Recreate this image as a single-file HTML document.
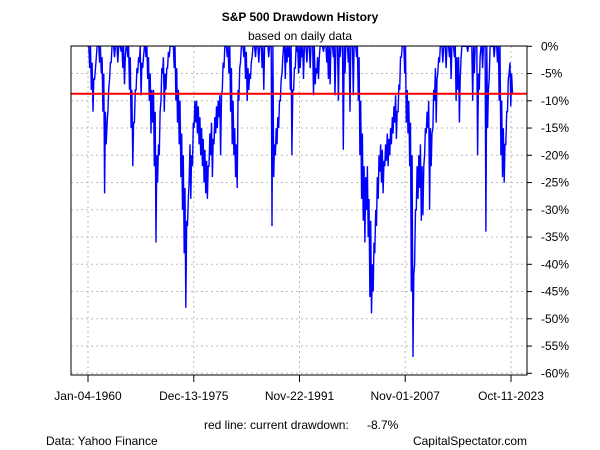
<!DOCTYPE html>
<html><head><meta charset="utf-8"><style>
body{margin:0;background:#fff;}
svg{display:block;font-family:"Liberation Sans",Arial,sans-serif;}
</style></head><body>
<svg id="chart" width="600" height="450" viewBox="0 0 600 450" xmlns="http://www.w3.org/2000/svg">
<rect width="600" height="450" fill="#fff"/>
<text x="300" y="21" text-anchor="middle" font-size="12" font-weight="bold">S&amp;P 500 Drawdown History</text>
<text x="300" y="40" text-anchor="middle" font-size="12">based on daily data</text>
<g id="grid"></g>
<g id="series"></g>
<g id="axes"></g>
<text x="204" y="429" font-size="12">red line: current drawdown:</text>
<text x="367" y="429" font-size="12">-8.7%</text>
<text x="46" y="445" font-size="12">Data: Yahoo Finance</text>
<text x="527" y="445" text-anchor="end" font-size="12">CapitalSpectator.com</text>
</svg>
<script>
const startYear = 1960;
const stepYears = 0.25;
const drawdown = [
0,-4,-8,-12, -6,-2,0,-3, -5,-12,-27,-18, -12,-6,-3,0, -2,0,-3,0, -1,-4,-7,0,
-2,-8,-15,-22, -14,-8,-5,-3, -9,-4,0,-2, -6,-10,-16,-14, -22,-36,-25,-20, -10,-5,-12,-8,
-4,-2,0,0, -4,-10,-14,-18, -24,-30,-38,-48, -33,-25,-28,-22, -15,-14,-16,-18, -20,-22,-25,-27,
-28,-22,-20,-24, -18,-16,-15,-13, -20,-8,-4,0, -2,-5,-12,-18, -20,-24,-26,-10, -3,0,-2,-6,
-10,-8,-6,-2, 0,-2,0,-3, 0,-4,-8,0, 0,-2,0,-33, -24,-20,-18,-15, -10,-5,0,-6,
-3,-2,-8,-20, -8,-4,-1,-5, -4,-2,-6,0, -3,0,-4,0, -9,-7,-5,-6, 0,0,-1,0,
-3,-6,-7,0, -2,-9,0,-10, -2,0,-19,-5, 0,-3,-12,0, -9,0,-2,-10, -20,-28,-32,-36,
-30,-35,-46,-49, -45,-38,-33,-28, -23,-25,-27,-22, -21,-22,-20,-18, -16,-14,-17,-12, -8,-2,0,-5,
-14,-16,-22,-45, -57,-40,-30,-28, -26,-32,-31,-20, -16,-15,-30,-22, -15,-10,-14,-5, -3,0,-3,0,
-4,0,-2,-6, 0,-2,-10,-8, -14,-2,0,0, 0,-1,0,0, -10,-5,0,-20, -8,0,-4,0,
-34,-15,-6,0, 0,-2,0,-3, -10,-20,-24,-25, -18,-12,-5,-11, -8.7
];
const quarterPeak = [
0,0,-3,-6, -4,0,0,0, -2,-5,-12,-14, -8,-3,0,0, 0,0,0,0, 0,0,-2,0,
0,-2,-8,-14, -8,-4,-2,0, -3,-2,0,0, -2,-5,-8,-8, -12,-20,-18,-12, -4,-2,-5,-4,
-1,0,0,0, 0,-4,-8,-10, -16,-20,-26,-32, -28,-18,-20,-14, -10,-10,-11,-13, -15,-17,-19,-21,
-22,-16,-14,-17, -13,-11,-10,-9, -9,-3,0,0, 0,0,-4,-10, -15,-18,-8,-4, 0,0,0,-1,
-4,-5,-3,0, 0,0,0,0, 0,0,0,0, 0,0,0,0, -18,-15,-13,-10, -6,-2,0,0,
0,0,0,-8, -4,0,0,0, 0,0,0,0, 0,0,0,0, 0,-4,-2,-2, 0,0,0,0,
0,0,0,0, 0,0,0,0, 0,0,0,0, 0,0,0,0, 0,0,0,-2, -10,-16,-22,-24,
-22,-28,-32,-40, -36,-30,-24,-20, -18,-19,-21,-18, -16,-17,-15,-13, -11,-9,-12,-7, -2,0,0,0,
-8,-10,-14,-20, -42,-30,-22,-20, -18,-22,-22,-15, -12,-10,-15,-16, -8,-4,-6,-2, 0,0,0,0,
0,0,0,0, 0,0,-2,-2, -6,0,0,0, 0,0,0,0, 0,0,0,-5, -2,0,0,0,
0,-8,0,0, 0,0,0,0, 0,-10,-15,-18, -12,-6,-3,-5, -8.7
];
const currentDrawdown = -8.7;
const yTicks = [0,-5,-10,-15,-20,-25,-30,-35,-40,-45,-50,-55,-60];
const xTickLabels = ["Jan-04-1960","Dec-13-1975","Nov-22-1991","Nov-01-2007","Oct-11-2023"];
const xTickYears = [1960.0,1975.95,1991.89,2007.83,2023.78];

const NS="http://www.w3.org/2000/svg";
const L=71,R=527,T=46,B=375;
function xs(yr){return 88+(yr-1960)*(511-88)/(2023.78-1960);}
function ys(p){return 46.3-p*5.45;}
function mk(tag,attrs,parent){const e=document.createElementNS(NS,tag);for(const k in attrs)e.setAttribute(k,attrs[k]);parent.appendChild(e);return e;}
const grid=document.getElementById('grid'),axes=document.getElementById('axes'),series=document.getElementById('series');
yTicks.forEach(v=>{
  const y=ys(v);
  const g=mk('line',{x1:L,x2:R,y1:y,y2:y,stroke:'#bbb','stroke-dasharray':'2,3','stroke-width':1},grid);
  
  
  const t=mk('line',{x1:R,x2:R+5,y1:y,y2:y,stroke:'#000'},axes);
  
  
  const tx=mk('text',{x:541,y:y+4,'font-size':12},axes);
  tx.textContent=v+'%';
  
  
});
xTickYears.forEach((yr,i)=>{
  const x=xs(yr);
  const g=mk('line',{x1:x,x2:x,y1:T,y2:B,stroke:'#bbb','stroke-dasharray':'2,3','stroke-width':1},grid);
  
  
  const t=mk('line',{x1:x,x2:x,y1:B,y2:B+7,stroke:'#000'},axes);
  
  
  const tx=mk('text',{x:x,y:400,'font-size':12,'text-anchor':'middle'},axes);
  tx.textContent=xTickLabels[i];
  
  
});
const pts=[];
drawdown.forEach((v,i)=>{
  const t=startYear+i*stepYears;
  pts.push(xs(t).toFixed(1)+','+ys(v).toFixed(1));
  if(i<drawdown.length-1){
    pts.push(xs(t+stepYears*0.5).toFixed(1)+','+ys(quarterPeak[i]).toFixed(1));
  }
});
const line=mk('polyline',{points:pts.join(' '),fill:'none',stroke:'#0000ff','stroke-width':1.4,'stroke-linejoin':'miter'},series);


const rl=mk('line',{x1:L,x2:R,y1:ys(currentDrawdown),y2:ys(currentDrawdown),stroke:'#ff0000','stroke-width':2},series);


const box=mk('rect',{x:L,y:T,width:R-L,height:B-T,fill:'none',stroke:'#000'},axes);


</script>
</body></html>
